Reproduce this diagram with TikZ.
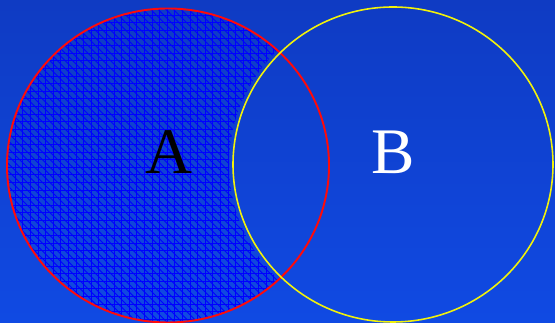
\documentclass[tikz,border=0pt]{standalone}
\usepackage{fontspec}
\setmainfont{Liberation Serif}
\usepackage{tikz}
\definecolor{bgtop}{HTML}{0F3BC3}
\definecolor{bgbot}{HTML}{104AE3}
\definecolor{hatchblue}{HTML}{0000FF}
\definecolor{ringred}{HTML}{FF0A0A}
\definecolor{ringyel}{HTML}{F2F20A}
\tikzset{
  hatchln/.style={hatchblue,line width=0.5pt},
  ringA/.style={draw=ringred,line width=1.1pt},
  ringB/.style={draw=ringyel,line width=0.9pt},
  setlab/.style={anchor=base,inner sep=0pt,font=\fontsize{37}{40}\selectfont},
}

\begin{document}
\begin{tikzpicture}[x=0.02cm,y=-0.02cm]
  \fill[top color=bgtop,bottom color=bgbot] (0,0) rectangle (555,323);
  \useasboundingbox (0,0) rectangle (555,323);
  \coordinate (cA) at (168,165.5);
  \coordinate (cB) at (393,164.5);
  % A without B, cross hatched
  \begin{scope}[even odd rule]
    \clip (cA) ellipse[x radius=161,y radius=157];
    \clip (cB) ellipse[x radius=164,y radius=161] (0,0) rectangle (555,323);
    \foreach \k in {0,7.6,...,340}
      \draw[hatchln] (\k,0) -- (\k,323);
    \foreach \k in {0,7.6,...,330}
      \draw[hatchln] (0,\k) -- (340,\k);
    \foreach \k in {-330,-322.4,...,340}
      \draw[hatchln] (\k,0) -- (\k+323,323);
  \end{scope}
  \draw[ringA] (cA) ellipse[x radius=161,y radius=157];
  \draw[ringB] (cB) ellipse[x radius=160,y radius=157.5];
  \node[setlab,black] (labA) at (169,174) {A};
  \node[setlab,white] (labB) at (393.5,174) {B};
\end{tikzpicture}
\end{document}
